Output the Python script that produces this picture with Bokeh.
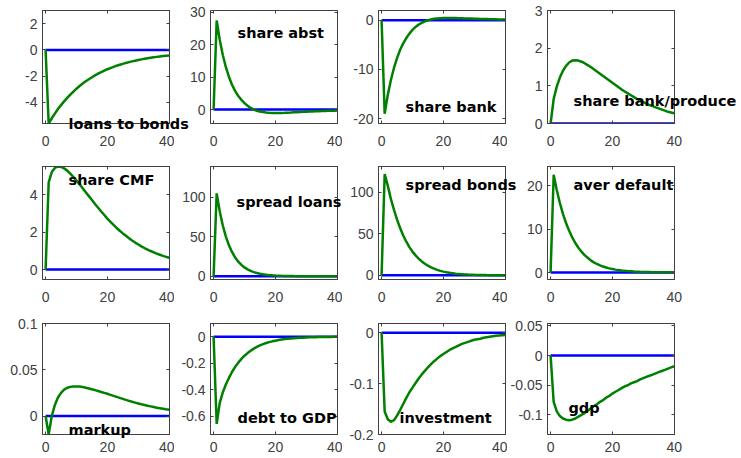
from bokeh.plotting import figure
from bokeh.layouts import column, row
from bokeh.models import Range1d, FixedTicker, Label, LinearAxis
from bokeh.embed import file_html
from bokeh.resources import INLINE

# ---------------- data ----------------
periods = list(range(41))
benchmark = [0.0, 0.0, 0.0, 0.0, 0.0, 0.0, 0.0, 0.0, 0.0, 0.0, 0.0, 0.0, 0.0, 0.0,
             0.0, 0.0, 0.0, 0.0, 0.0, 0.0, 0.0, 0.0, 0.0, 0.0, 0.0, 0.0, 0.0, 0.0,
             0.0, 0.0, 0.0, 0.0, 0.0, 0.0, 0.0, 0.0, 0.0, 0.0, 0.0, 0.0, 0.0]

loans_to_bonds = [0.0, -5.6, -5.2, -4.85, -4.5, -4.2, -3.92, -3.65, -3.4, -3.17, -2.95,
                  -2.75, -2.56, -2.39, -2.23, -2.08, -1.94, -1.81, -1.69, -1.58, -1.47,
                  -1.38, -1.29, -1.2, -1.13, -1.06, -0.99, -0.93, -0.87, -0.82, -0.77,
                  -0.72, -0.68, -0.64, -0.6, -0.56, -0.53, -0.5, -0.47, -0.44, -0.42]
share_abst = [0.0, 27.5, 21.5, 16.8, 13.0, 10.0, 7.6, 5.7, 4.2, 3.0, 2.0, 1.2, 0.5, 0.0,
              -0.35, -0.6, -0.78, -0.9, -0.98, -1.02, -1.04, -1.04, -1.02, -0.99, -0.95,
              -0.91, -0.86, -0.81, -0.76, -0.71, -0.66, -0.62, -0.57, -0.53, -0.49, -0.45,
              -0.42, -0.39, -0.36, -0.33, -0.3]
share_bank = [0.0, -19.0, -15.2, -12.2, -9.7, -7.7, -6.0, -4.7, -3.6, -2.7, -1.95, -1.35,
              -0.87, -0.5, -0.2, 0.02, 0.18, 0.3, 0.38, 0.43, 0.46, 0.47, 0.47, 0.46, 0.45,
              0.43, 0.41, 0.39, 0.37, 0.35, 0.33, 0.31, 0.29, 0.27, 0.25, 0.23, 0.21, 0.2,
              0.18, 0.17, 0.15]
share_bank_produce = [0.0, 0.65, 0.98, 1.22, 1.4, 1.53, 1.62, 1.67, 1.68, 1.67, 1.64, 1.6,
                      1.55, 1.5, 1.44, 1.38, 1.32, 1.26, 1.2, 1.14, 1.08, 1.02, 0.96, 0.9,
                      0.85, 0.8, 0.75, 0.7, 0.65, 0.61, 0.57, 0.53, 0.49, 0.46, 0.43, 0.4,
                      0.37, 0.34, 0.31, 0.29, 0.27]
share_cmf = [0.0, 4.65, 5.2, 5.42, 5.5, 5.48, 5.4, 5.28, 5.12, 4.94, 4.75, 4.55, 4.34, 4.13,
             3.92, 3.71, 3.5, 3.3, 3.1, 2.91, 2.72, 2.55, 2.38, 2.22, 2.07, 1.93, 1.8, 1.67,
             1.55, 1.44, 1.34, 1.24, 1.15, 1.07, 0.99, 0.92, 0.85, 0.79, 0.73, 0.68, 0.63]
spread_loans = [0.0, 105.0, 82.0, 64.0, 50.0, 39.0, 30.5, 23.8, 18.6, 14.5, 11.3, 8.8, 6.9,
                5.4, 4.2, 3.3, 2.6, 2.0, 1.6, 1.25, 1.0, 0.8, 0.65, 0.52, 0.43, 0.36, 0.3,
                0.26, 0.22, 0.19, 0.17, 0.15, 0.13, 0.12, 0.11, 0.1, 0.09, 0.08, 0.08, 0.07,
                0.07]
spread_bonds = [0.0, 122.0, 108.0, 92.0, 79.0, 67.0, 57.0, 48.0, 40.5, 34.0, 28.5, 24.0, 20.0,
                16.8, 14.0, 11.6, 9.6, 8.0, 6.6, 5.4, 4.5, 3.7, 3.0, 2.5, 2.0, 1.7, 1.4, 1.1,
                0.9, 0.75, 0.6, 0.5, 0.4, 0.33, 0.27, 0.22, 0.18, 0.15, 0.12, 0.1, 0.08]
aver_default = [0.0, 22.5, 19.0, 16.0, 13.5, 11.4, 9.6, 8.1, 6.8, 5.7, 4.8, 4.0, 3.4, 2.8,
                2.35, 1.97, 1.65, 1.38, 1.15, 0.96, 0.8, 0.67, 0.56, 0.47, 0.39, 0.33, 0.28,
                0.23, 0.19, 0.16, 0.14, 0.12, 0.1, 0.08, 0.07, 0.06, 0.05, 0.04, 0.04, 0.03,
                0.03]
markup = [0.0, -0.02, 0.0, 0.012, 0.02, 0.025, 0.0285, 0.0305, 0.0315, 0.032, 0.032, 0.0318,
          0.0313, 0.0306, 0.0298, 0.0289, 0.028, 0.027, 0.026, 0.025, 0.024, 0.0229, 0.0218,
          0.0207, 0.0196, 0.0185, 0.0174, 0.0164, 0.0154, 0.0145, 0.0136, 0.0127, 0.0119,
          0.0111, 0.0104, 0.0097, 0.009, 0.0084, 0.0078, 0.0072, 0.0067]
debt_to_gdp = [0.0, -0.66, -0.5, -0.42, -0.36, -0.31, -0.265, -0.228, -0.196, -0.168, -0.144,
               -0.124, -0.106, -0.09, -0.077, -0.066, -0.056, -0.048, -0.041, -0.035, -0.03,
               -0.025, -0.021, -0.018, -0.015, -0.013, -0.011, -0.009, -0.008, -0.007,
               -0.006, -0.005, -0.004, -0.0035, -0.003, -0.0025, -0.002, -0.002, -0.0015,
               -0.001, -0.001]
investment = [0.0, -0.155, -0.17, -0.175, -0.172, -0.163, -0.152, -0.14, -0.128, -0.117,
              -0.108, -0.099, -0.09, -0.082, -0.075, -0.068, -0.062, -0.056, -0.051, -0.046,
              -0.042, -0.038, -0.034, -0.031, -0.028, -0.025, -0.022, -0.02, -0.018, -0.016,
              -0.014, -0.013, -0.012, -0.01, -0.009, -0.008, -0.007, -0.006, -0.0055, -0.005,
              -0.0045]
gdp = [0.0, -0.078, -0.094, -0.102, -0.106, -0.108, -0.109, -0.108, -0.106, -0.103, -0.1,
       -0.097, -0.093, -0.089, -0.085, -0.082, -0.078, -0.075, -0.071, -0.068, -0.064, -0.061,
       -0.058, -0.055, -0.052, -0.05, -0.047, -0.045, -0.043, -0.04, -0.038, -0.036, -0.034,
       -0.032, -0.03, -0.028, -0.026, -0.024, -0.022, -0.02, -0.018]

titles = ["loans to bonds", "share abst", "share bank", "share bank/produce",
          "share CMF", "spread loans", "spread bonds", "aver default",
          "markup", "debt to GDP", "investment", "gdp"]
series = [loans_to_bonds, share_abst, share_bank, share_bank_produce,
          share_cmf, spread_loans, spread_bonds, aver_default,
          markup, debt_to_gdp, investment, gdp]

x_ticks = [0, 20, 40]
x_tick_labels = ["0", "20", "40"]
y_ticks = [[-4, -2, 0, 2], [0, 10, 20, 30], [-20, -10, 0], [0, 1, 2, 3],
           [0, 2, 4], [0, 50, 100], [0, 50, 100], [0, 10, 20],
           [0, 0.05, 0.1], [-0.6, -0.4, -0.2, 0], [-0.2, -0.1, 0], [-0.1, -0.05, 0, 0.05]]
y_tick_labels = [["-4", "-2", "0", "2"], ["0", "10", "20", "30"], ["-20", "-10", "0"],
                 ["0", "1", "2", "3"], ["0", "2", "4"], ["0", "50", "100"],
                 ["0", "50", "100"], ["0", "10", "20"], ["0", "0.05", "0.1"],
                 ["-0.6", "-0.4", "-0.2", "0"], ["-0.2", "-0.1", "0"],
                 ["-0.1", "-0.05", "0", "0.05"]]
y_limits = [(-5.6, 3.0), (-4.3, 30.6), (-21.0, 2.0), (0.0, 3.0),
            (-0.53, 5.5), (-4.0, 139.0), (-5.0, 131.0), (-1.6, 24.4),
            (-0.02, 0.1), (-0.74, 0.1), (-0.2, 0.018), (-0.133, 0.054)]
x_limits = (-1.0, 40.1)

# ---------------- layout / style ----------------
PAGE_W = 741
FRAME_W = 127
FRAME_H = [113, 113, 111]
col_left = [42, 36, 36, 40]
col_right = [5, 5, 2, 8]
row_top = [10, 13, 14]
row_bottom = [30, 30, 24]
x_standoff = [12, 12, 7]
# title anchor (left, baseline) as fractions of each panel's frame
title_pos = [(0.205, -0.053), (0.213, 0.758), (0.213, 0.106), (0.205, 0.159),
             (0.205, 0.832), (0.205, 0.646), (0.213, 0.788), (0.205, 0.788),
             (0.205, 0.0), (0.213, 0.10), (0.165, 0.10), (0.165, 0.19)]
TITLE_DY = -5

AX = "#404040"
TICK_FONT = "Liberation Sans"
LW = 2.5


def hidden_axis(p, side, ticks):
    ax = LinearAxis(ticker=FixedTicker(ticks=ticks),
                    major_label_overrides={t: "" for t in ticks},
                    major_label_text_font_size="0px", major_label_standoff=0,
                    major_tick_in=3, major_tick_out=0, minor_tick_line_color=None,
                    axis_line_color=AX, major_tick_line_color=AX)
    p.add_layout(ax, side)


# frame positions (page pixels) used to anchor the panel titles
frame_lefts = []
x = 0
for c in range(4):
    frame_lefts.append(x + col_left[c])
    x += col_left[c] + FRAME_W + col_right[c]
frame_tops = []
y = 0
for r in range(3):
    frame_tops.append(y + row_top[r])
    y += row_top[r] + FRAME_H[r] + row_bottom[r]
grid_h = y

rows = []
for r in range(3):
    figs = []
    for c in range(4):
        i = r * 4 + c
        y0, y1 = y_limits[i]
        p = figure(width=col_left[c] + FRAME_W + col_right[c],
                   height=row_top[r] + FRAME_H[r] + row_bottom[r],
                   x_range=Range1d(*x_limits), y_range=Range1d(y0, y1),
                   output_backend="svg", toolbar_location=None,
                   min_border_left=col_left[c], min_border_right=col_right[c],
                   min_border_top=row_top[r], min_border_bottom=row_bottom[r])
        p.border_fill_alpha = 0
        p.background_fill_color = "white"
        p.outline_line_color = AX
        p.outline_line_width = 1
        p.grid.visible = False

        p.xaxis.ticker = FixedTicker(ticks=x_ticks)
        p.xaxis.major_label_overrides = dict(zip(x_ticks, x_tick_labels))
        p.xaxis.major_label_standoff = x_standoff[r]
        p.yaxis.ticker = FixedTicker(ticks=y_ticks[i])
        p.yaxis.major_label_overrides = dict(zip(y_ticks[i], y_tick_labels[i]))
        p.yaxis.major_label_standoff = 5
        for ax in (p.xaxis, p.yaxis):
            ax.axis_line_color = AX
            ax.major_tick_line_color = AX
            ax.major_tick_in = 3
            ax.major_tick_out = 0
            ax.minor_tick_line_color = None
            ax.major_label_text_font = TICK_FONT
            ax.major_label_text_font_size = "14px"
            ax.major_label_text_color = AX
        hidden_axis(p, "above", x_ticks)
        hidden_axis(p, "right", y_ticks[i])

        p.line(periods, benchmark, line_color="#0000ff", line_width=LW)
        p.line(periods, series[i], line_color="#008000", line_width=LW)
        figs.append(p)
    rows.append(row(*figs, spacing=0))

grid = column(*rows, spacing=0)

# transparent overlay (page pixel coordinates) carrying the panel titles,
# so that titles may run past their panel's frame as in the reference
ov = figure(width=PAGE_W, height=grid_h, x_range=Range1d(0, PAGE_W),
            y_range=Range1d(grid_h, 0), x_axis_type=None, y_axis_type=None,
            output_backend="svg", toolbar_location=None,
            min_border=0, margin=(-grid_h, 0, 0, 0))
ov.border_fill_alpha = 0
ov.background_fill_alpha = 0
ov.outline_line_color = None
ov.grid.visible = False
for r in range(3):
    for c in range(4):
        i = r * 4 + c
        fx, fy = title_pos[i]
        ov.add_layout(Label(x=frame_lefts[c] + fx * FRAME_W,
                            y=frame_tops[r] + (1 - fy) * FRAME_H[r] + TITLE_DY,
                            text=titles[i], text_font="DejaVu Sans",
                            text_font_style="bold", text_font_size="14.5px",
                            text_color="black", text_align="left",
                            text_baseline="alphabetic"))

layout = column(grid, ov, spacing=0)
open("out.html", "w").write(file_html(layout, INLINE))
